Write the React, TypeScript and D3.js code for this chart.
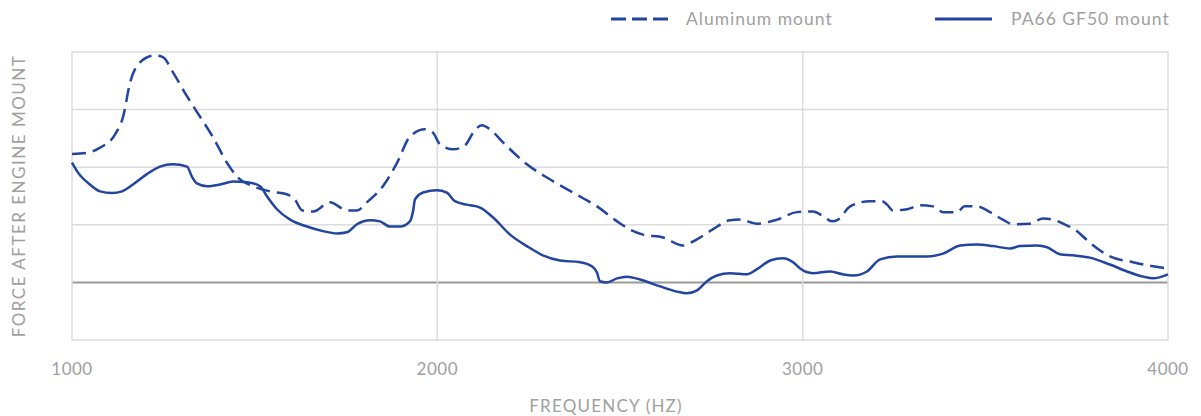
import * as d3 from "d3";

const WIDTH = 1201;
const HEIGHT = 416;
const MARGIN = { top: 52, right: 33, bottom: 75, left: 72 };

type Pt = { f: number; v: number };

// Aluminum mount (dashed)
const aluFreq = [
  1000, 1040, 1077, 1118, 1140, 1159, 1186, 1227, 1249, 1276, 1315, 1350, 1386,
  1424, 1454, 1495, 1542, 1588, 1610, 1630, 1660, 1706, 1753, 1780, 1807, 1851,
  1890, 1925, 1966, 1988, 2007, 2043, 2076, 2098, 2122, 2144, 2180, 2245, 2308,
  2371, 2437, 2492, 2527, 2563, 2618, 2672, 2700, 2754, 2801, 2828, 2875, 2930,
  2984, 3028, 3056, 3080, 3097, 3130, 3184, 3217, 3231, 3247, 3286, 3321, 3357,
  3384, 3422, 3444, 3477, 3513, 3548, 3576, 3622, 3658, 3685, 3713, 3751, 3786,
  3841, 3904, 3959, 4000,
];
const aluValues = [
  2.23, 2.25, 2.34, 2.57, 2.88, 3.47, 3.82, 3.94, 3.91, 3.65, 3.23, 2.88, 2.52,
  2.08, 1.82, 1.67, 1.58, 1.53, 1.44, 1.25, 1.23, 1.39, 1.25, 1.25, 1.39, 1.67,
  2.08, 2.53, 2.66, 2.6, 2.4, 2.31, 2.38, 2.6, 2.73, 2.66, 2.43, 2.05, 1.79,
  1.56, 1.32, 1.06, 0.92, 0.83, 0.78, 0.64, 0.71, 0.92, 1.08, 1.09, 1.02, 1.09,
  1.22, 1.23, 1.15, 1.06, 1.09, 1.32, 1.41, 1.41, 1.35, 1.25, 1.27, 1.34, 1.32,
  1.22, 1.22, 1.32, 1.32, 1.22, 1.09, 1.01, 1.02, 1.11, 1.09, 1.02, 0.89, 0.69,
  0.45, 0.35, 0.28, 0.24, 0.21,
];

// PA66 GF50 mount (solid)
const paFreq = [
  1000, 1016, 1049, 1077, 1109, 1137, 1167, 1205, 1241, 1276, 1315, 1328, 1342,
  1370, 1405, 1441, 1479, 1515, 1534, 1561, 1597, 1643, 1687, 1725, 1753, 1780,
  1816, 1843, 1870, 1898, 1925, 1933, 1939, 1961, 1999, 2026, 2048, 2081, 2117,
  2152, 2199, 2245, 2289, 2336, 2391, 2423, 2437, 2445, 2464, 2492, 2519, 2555,
  2610, 2656, 2683, 2711, 2738, 2765, 2801, 2848, 2875, 2911, 2946, 2974, 2993,
  3028, 3075, 3110, 3138, 3176, 3212, 3258, 3340, 3384, 3431, 3477, 3521, 3568,
  3595, 3641, 3669, 3704, 3740, 3786, 3841, 3888, 3932, 3959, 4000,
];
const paValues = [
  2.08, 1.91, 1.7, 1.58, 1.55, 1.58, 1.7, 1.88, 2.01, 2.05, 2.01, 1.84, 1.72,
  1.67, 1.7, 1.75, 1.74, 1.67, 1.49, 1.27, 1.09, 0.97, 0.89, 0.85, 0.87, 1.01,
  1.08, 1.06, 0.97, 0.97, 1.06, 1.22, 1.44, 1.56, 1.6, 1.56, 1.41, 1.35, 1.3,
  1.13, 0.83, 0.63, 0.47, 0.38, 0.35, 0.28, 0.17, 0.02, 0.0, 0.07, 0.1, 0.05,
  -0.07, -0.16, -0.19, -0.14, 0.02, 0.12, 0.16, 0.14, 0.23, 0.38, 0.42, 0.35,
  0.24, 0.16, 0.19, 0.14, 0.12, 0.19, 0.4, 0.45, 0.45, 0.5, 0.64, 0.66, 0.63,
  0.59, 0.63, 0.64, 0.61, 0.49, 0.47, 0.43, 0.31, 0.19, 0.1, 0.07, 0.14,
];

const xTicks = [1000, 2000, 3000, 4000];
const yTicks = [-1, 0, 1, 2, 3, 4];
const legendLabels = ["Aluminum mount", "PA66 GF50 mount"];

const LINE_COLOR = "#2245a0";
const TEXT_COLOR = "#a0a0a0";
const GRID_COLOR = "#dcdcdc";
const FONT = "Lato, 'Open Sans', sans-serif";

const App = () => {
  const boundsWidth = WIDTH - MARGIN.left - MARGIN.right;
  const boundsHeight = HEIGHT - MARGIN.top - MARGIN.bottom - 1;

  const xScale = d3.scaleLinear().domain([1000, 4000]).range([0, boundsWidth]);
  const yScale = d3.scaleLinear().domain([-1, 4]).range([boundsHeight, 0]);

  const alu: Pt[] = aluFreq.map((f, i) => ({ f, v: aluValues[i] }));
  const pa: Pt[] = paFreq.map((f, i) => ({ f, v: paValues[i] }));

  const lineBuilder = d3
    .line<Pt>()
    .x((d) => xScale(d.f))
    .y((d) => yScale(d.v))
    .curve(d3.curveMonotoneX);

  return (
    <svg
      width={WIDTH}
      height={HEIGHT}
      style={{ position: "absolute", left: 0, top: 0 }}
      fontFamily={FONT}
    >
      {/* legend */}
      <g>
        <line x1={611} x2={668} y1={19} y2={19} stroke={LINE_COLOR} strokeWidth={3} strokeDasharray="15,6" />
        <text x={686} y={25} fill={TEXT_COLOR} fontSize={17.5} letterSpacing={1}>
          {legendLabels[0]}
        </text>
        <line x1={935} x2={992} y1={19} y2={19} stroke={LINE_COLOR} strokeWidth={3} />
        <text x={1011} y={25} fill={TEXT_COLOR} fontSize={17.5} letterSpacing={1}>
          {legendLabels[1]}
        </text>
      </g>

      <g transform={`translate(${MARGIN.left},${MARGIN.top})`}>
        {/* horizontal grid */}
        {yTicks.map((t) => (
          <line
            key={t}
            x1={0}
            x2={boundsWidth}
            y1={yScale(t)}
            y2={yScale(t)}
            stroke={t === 0 ? "#9a9a9a" : GRID_COLOR}
            strokeWidth={t === 0 ? 2 : 1.5}
          />
        ))}
        {/* vertical grid */}
        {xTicks.map((t) => (
          <line
            key={t}
            x1={xScale(t)}
            x2={xScale(t)}
            y1={0}
            y2={boundsHeight}
            stroke={GRID_COLOR}
            strokeWidth={1.5}
          />
        ))}
        {/* x tick labels */}
        {xTicks.map((t) => (
          <text
            key={t}
            x={xScale(t)}
            y={boundsHeight + 35}
            textAnchor="middle"
            fill={TEXT_COLOR}
            fontSize={17}
            letterSpacing={0.5}
          >
            {t}
          </text>
        ))}

        <path d={lineBuilder(alu) ?? ""} fill="none" stroke={LINE_COLOR} strokeWidth={2.5} strokeDasharray="14,7" />
        <path d={lineBuilder(pa) ?? ""} fill="none" stroke={LINE_COLOR} strokeWidth={2.5} />
      </g>

      {/* axis titles */}
      <text x={606} y={412} textAnchor="middle" fill={TEXT_COLOR} fontSize={17} letterSpacing={1.2}>
        FREQUENCY (HZ)
      </text>
      <text
        transform="translate(25,196) rotate(-90)"
        textAnchor="middle"
        fill={TEXT_COLOR}
        fontSize={17}
        letterSpacing={1.5}
      >
        FORCE AFTER ENGINE MOUNT
      </text>
    </svg>
  );
};

export default App;
